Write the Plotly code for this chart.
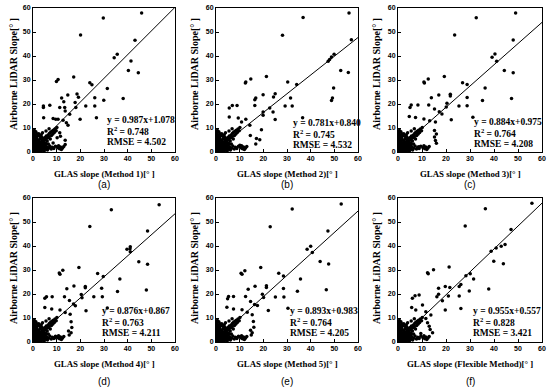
import plotly.graph_objects as go

# ---------------- data ----------------
panel_letters = ["(a)", "(b)", "(c)", "(d)", "(e)", "(f)"]
x_titles = ["GLAS slope (Method 1)[° ]", "GLAS slope (Method 2)[° ]", "GLAS slope (Method 3)[° ]",
            "GLAS slope (Method 4)[° ]", "GLAS slope (Method 5)[° ]", "GLAS slope (Flexible Method)[° ]"]
y_title = "Airborne LiDAR Slope[° ]"
slopes = [0.987, 0.781, 0.884, 0.876, 0.893, 0.955]
intercepts = [1.078, 0.840, 0.975, 0.867, 0.983, 0.557]
r2_values = ["0.748", "0.745", "0.764", "0.763", "0.764", "0.828"]
rmse_values = ["4.502", "4.532", "4.208", "4.211", "4.205", "3.421"]
tick_vals = [0, 10, 20, 30, 40, 50, 60]

# dense cluster of low-slope points (shared shape in all panels)
cluster_x = [0.1,0.3,0.4,0.5,0.6,0.2,0.4,0.3,0.5,0.2,
             0.8,0.9,1.0,1.1,0.9,1.2,1.0,1.3,0.8,1.1,
             1.4,1.5,1.6,1.4,1.7,1.5,1.8,1.9,2.0,2.1,
             2.2,2.3,2.4,2.5,2.3,2.6,2.7,2.8,2.9,3.0,
             3.1,3.2,3.3,3.4,3.5,3.6,3.7,3.8,3.9,4.0,
             4.1,4.2,4.3,4.4,4.5,4.6,4.7,4.8,4.9,5.0,
             5.1,5.2,5.3,5.4,5.5,5.6,5.8,6.0,6.1,6.2,
             6.4,6.5,6.6,6.8,7.0,7.1,7.3,7.5,7.7,7.8,
             8.0,8.2,8.4,8.6,8.8,9.0,9.3,9.5,9.8,10.1,
             10.4,10.8,11.2,11.6,12.0,12.5,13.0,0.6,1.2,2.0,
             2.4,3.0,3.5,4.0,0.7,1.6,5.5,6.8,2.8,3.8]
cluster_y = [0.2,0.8,1.5,2.6,3.4,4.1,5.2,6.3,7.4,8.1,
             0.4,1.1,2.0,2.9,3.8,4.6,5.5,6.2,7.0,0.6,
             1.4,2.3,3.1,4.0,4.9,5.8,0.9,1.8,2.7,3.5,
             0.3,1.2,2.1,3.0,3.9,4.4,1.6,2.4,0.7,3.3,
             1.0,1.9,2.8,4.2,0.5,1.4,2.3,3.6,5.1,0.9,
             2.0,3.0,4.4,1.3,5.6,2.6,0.4,3.8,1.8,4.9,
             6.0,2.9,1.1,5.3,3.5,6.7,2.2,4.6,0.8,5.9,
             7.1,3.3,1.6,6.4,7.8,2.5,5.4,8.2,1.2,6.9,
             8.6,2.0,7.5,9.1,1.5,8.1,9.6,2.4,8.9,10.2,
             1.8,2.6,1.4,2.1,1.0,1.7,2.3,9.0,8.4,6.8,
             7.6,6.5,7.2,8.0,4.8,7.6,8.8,9.7,5.3,6.0]

a_x = [29.7,45.9,20.1,43.1,35.6,34.3,41.4,40.3,44.5,9.9,10.6,17.2,24.0,24.9,31.4,18.6,19.2,14.7,12.1,26.1,
       29.9,38.1,17.8,18.1,22.3,26.1,4.4,4.4,7.1,13.0,13.4,13.6,11.3,15.5,19.9,26.8,4.5,8.5,9.6,10.6,
       12.7,14.8,14.1,11.3,11.6,13.6,13.6,10.2,8.5,7.1]
a_y = [55.8,57.9,48.7,46.6,40.7,39.3,37.9,34.0,33.0,29.4,30.2,31.3,28.9,28.0,26.5,24.2,22.8,23.7,22.5,22.6,
       21.6,22.3,20.6,18.5,19.2,19.2,19.2,18.5,19.5,20.9,18.5,17.1,18.5,15.7,13.6,14.3,14.3,14.0,13.6,13.6,
       13.2,11.1,12.2,8.0,6.6,4.9,3.1,5.9,3.8,2.1]

b_x = [36.8,56.2,28.1,57.2,49.9,48.8,48.0,47.4,52.7,55.9,12.4,12.6,14.7,21.3,30.3,34.1,49.7,19.9,25.0,24.3,
       16.8,31.5,49.2,48.8,29.2,32.2,16.4,16.4,5.6,6.9,8.9,22.7,24.1,19.9,19.9,25.0,36.6,5.6,9.4,12.6,
       10.8,14.3,19.2,14.5,17.1,16.8,18.5,10.1]
b_y = [56.0,57.9,48.6,46.8,40.7,39.6,38.5,37.8,34.0,33.1,28.8,29.2,30.4,31.5,29.2,28.1,26.7,23.9,24.3,22.9,
       22.5,22.5,22.5,21.5,19.2,19.2,19.4,21.8,18.3,19.4,19.4,18.3,16.7,16.7,15.3,13.5,14.3,14.6,14.2,13.6,
       12.5,11.1,9.3,6.9,5.6,3.3,5.1,2.8]

c_x = [32.6,49.0,23.6,48.0,40.4,39.2,41.1,44.3,48.0,10.8,11.0,12.6,19.3,26.9,28.8,36.3,21.8,21.8,17.0,13.9,
       28.8,47.3,35.2,25.4,28.8,20.1,20.4,12.8,5.5,5.0,8.3,15.2,17.2,18.3,22.2,31.2,4.7,7.3,10.8,13.2,
       15.6,15.2,16.0,15.2,15.6,16.0,8.7]
c_y = [55.9,57.9,48.8,46.7,40.8,39.5,37.8,34.0,33.0,29.2,28.8,30.4,31.5,28.9,28.1,26.7,24.1,23.3,23.7,22.6,
       22.7,22.3,21.5,19.2,19.3,18.8,20.3,19.6,19.6,18.5,19.6,17.9,16.8,15.8,13.4,14.5,14.8,14.4,13.8,13.0,
       12.5,9.0,7.5,6.2,4.8,3.6,2.2]

d_x = [33.1,53.3,24.0,48.4,41.1,41.0,39.7,41.1,44.7,48.4,11.1,11.4,12.6,19.4,27.3,29.7,36.7,22.1,22.1,17.3,
       14.3,29.0,47.9,35.7,25.7,29.3,20.7,20.4,13.3,5.0,5.7,8.1,15.4,17.1,17.9,22.4,31.4,5.0,7.9,11.4,
       13.6,15.7,16.1,16.4,15.0,16.1,15.3,9.3]
d_y = [55.1,57.2,48.1,46.3,39.7,38.9,38.6,37.6,33.4,32.4,28.8,28.2,29.9,31.0,28.5,27.3,26.2,23.1,22.6,23.3,
       22.2,22.4,21.7,21.0,18.9,18.9,18.4,19.8,18.9,18.2,18.9,18.9,17.3,15.8,15.1,13.0,14.2,14.4,13.7,13.3,
       12.3,11.6,8.4,6.0,4.6,3.9,2.9,1.8]

e_x = [32.2,52.9,22.9,47.3,40.0,38.5,40.7,44.0,47.6,10.6,11.0,12.2,18.9,26.5,28.5,35.7,21.3,21.3,16.5,13.6,
       28.5,46.6,34.4,25.1,28.7,20.1,19.6,12.5,4.9,5.3,7.4,14.6,16.3,17.5,22.1,30.4,4.6,7.4,11.0,13.2,
       15.3,15.8,16.0,14.6,15.3,14.9,8.9]
e_y = [55.4,57.5,48.0,46.2,39.9,38.6,37.3,33.5,32.5,28.6,28.2,29.7,31.0,28.6,27.5,26.2,23.4,22.7,23.2,22.0,
       22.3,21.8,21.1,18.7,18.7,18.5,19.9,19.0,18.0,19.0,19.0,16.9,15.6,15.2,13.1,14.1,14.5,13.7,13.4,12.4,
       11.4,8.5,6.1,4.9,3.9,2.9,1.8]

f_x = [36.4,55.8,28.0,47.1,44.6,43.0,40.9,38.8,39.9,43.9,12.3,12.6,14.8,21.3,28.3,30.1,31.5,37.8,29.7,19.7,
       21.6,26.2,25.5,16.9,21.0,25.5,16.9,16.2,8.8,7.1,6.0,10.2,18.5,19.7,26.2,5.7,7.4,11.6,13.7,11.6,
       12.3,13.0,13.4,14.4,9.5]
f_y = [55.5,57.8,48.3,46.9,40.6,39.9,39.2,37.8,33.6,32.6,28.9,28.4,30.1,31.2,27.6,28.4,26.2,22.1,21.3,23.1,
       22.7,24.0,23.1,22.4,19.2,19.2,19.9,18.9,19.6,19.3,18.2,15.4,17.2,13.3,14.0,14.4,13.3,12.6,11.2,9.8,
       8.0,6.6,5.2,3.9,3.5]

xs = [a_x, b_x, c_x, d_x, e_x, f_x]
ys = [a_y, b_y, c_y, d_y, e_y, f_y]

# ---------------- layout (pixels in a 550x388 canvas) ----------------
W, H = 550, 388
col_px = [(33, 175), (216, 358), (398, 542)]
row_px = [(8, 152), (198, 342)]
ytitle_x_px = [13, 194, 376]
ytitle_y_px = [74, 268]
xtitle_y_px = [174, 364]
letter_y_px = [184, 381]
eq_x = [31.0, 32.0, 31.4, 28.7, 30.9, 31.0]
eq_y0 = [13.2, 12.0, 12.4, 12.8, 12.8, 13.0]
line_step = 4.6

serif = "Liberation Serif"
sans = "Liberation Sans"

fig = go.Figure()
annotations = []
for i in range(6):
    r, c = divmod(i, 3)
    n = "" if i == 0 else str(i + 1)
    xa, ya = "x" + n, "y" + n
    x0, x1 = col_px[c]
    y0, y1 = row_px[r]
    axis_common = dict(range=[0, 60], tickvals=tick_vals, showgrid=False, zeroline=False,
                       showline=True, linecolor="black", linewidth=1, mirror=True,
                       ticks="inside", ticklen=3, tickcolor="black", automargin=False,
                       tickfont=dict(family=sans, size=7, color="black", weight="bold"))
    fig.update_layout(**{
        "xaxis" + n: dict(domain=[x0 / W, x1 / W], anchor=ya, **axis_common),
        "yaxis" + n: dict(domain=[1 - y1 / H, 1 - y0 / H], anchor=xa, **axis_common),
    })
    fig.add_trace(go.Scatter(x=cluster_x + xs[i], y=cluster_y + ys[i], mode="markers",
                             marker=dict(color="black", size=3.5), xaxis=xa, yaxis=ya,
                             showlegend=False, cliponaxis=True))
    fx = [0, 60]
    fy = [intercepts[i] + slopes[i] * v for v in fx]
    fig.add_trace(go.Scatter(x=fx, y=fy, mode="lines", line=dict(color="black", width=1),
                             xaxis=xa, yaxis=ya, showlegend=False))
    eq_lines = [f"y = {slopes[i]:.3f}x+{intercepts[i]:.3f}",
                f"R<sup>2</sup> = {r2_values[i]}",
                f"RMSE = {rmse_values[i]}"]
    for k, t in enumerate(eq_lines):
        annotations.append(dict(x=eq_x[i], y=eq_y0[i] - k * line_step, xref=xa, yref=ya,
                                text=t, showarrow=False, xanchor="left", yanchor="middle",
                                borderpad=0,
                                font=dict(family=serif, size=9.5, color="black", weight="bold")))
    annotations.append(dict(x=(x0 + x1) / 2 / W, y=1 - xtitle_y_px[r] / H, xref="paper", yref="paper",
                            text=x_titles[i], showarrow=False, xanchor="center", yanchor="middle",
                            font=dict(family=serif, size=8.8, color="black", weight="bold")))
    annotations.append(dict(x=ytitle_x_px[c] / W, y=1 - ytitle_y_px[r] / H, xref="paper", yref="paper",
                            text=y_title, showarrow=False, textangle=-90, xanchor="center", yanchor="middle",
                            font=dict(family=serif, size=10, color="black", weight="bold")))
    annotations.append(dict(x=(x0 + x1) / 2 / W, y=1 - letter_y_px[r] / H, xref="paper", yref="paper",
                            text=panel_letters[i], showarrow=False, xanchor="center", yanchor="middle",
                            font=dict(family=sans, size=10, color="black")))

fig.update_layout(width=W, height=H, margin=dict(l=0, r=0, t=0, b=0),
                  paper_bgcolor="white", plot_bgcolor="white", annotations=annotations)
fig.write_html("out.html", config={"displayModeBar": False},
               post_script="document.body.style.margin='0';")
